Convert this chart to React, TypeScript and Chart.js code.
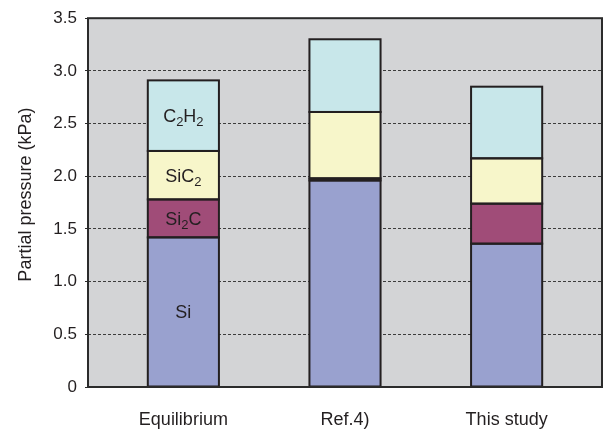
import { useEffect, useRef } from 'react';
import { Chart, registerables } from 'chart.js';

Chart.register(...registerables);

// Partial pressures (kPa) of the gas species, stacked per condition
const categories = ['Equilibrium', 'Ref.4)', 'This study'];
const species = ['Si', 'Si2C', 'SiC2', 'C2H2'];
const si = [1.42, 1.96, 1.36];
const si2c = [0.36, 0.02, 0.38];
const sic2 = [0.46, 0.63, 0.43];
const c2h2 = [0.67, 0.69, 0.68];
const yTicks = [0, 0.5, 1.0, 1.5, 2.0, 2.5, 3.0, 3.5];
const yTitle = 'Partial pressure (kPa)';

// Species names are printed inside the bars of this category only
const labelledCategory = 0;

const seriesValues = [si, si2c, sic2, c2h2];
const seriesColors = ['#99A1CF', '#A04C78', '#F7F6CA', '#C8E7EA'];

const FONT = '"Liberation Sans", Arial, Helvetica, sans-serif';
const INK = '#231F20';

// Draws a chemical formula with its digits as subscripts, centred on (cx, cy)
function drawFormula(ctx: CanvasRenderingContext2D, text: string, cx: number, cy: number) {
  const mainSize = 18;
  const subSize = 13;
  const runs = text.match(/\d+|\D+/g) || [];
  const parts = runs.map((r) => {
    const sub = /^\d+$/.test(r);
    ctx.font = `${sub ? subSize : mainSize}px ${FONT}`;
    return { r, sub, w: ctx.measureText(r).width };
  });
  const total = parts.reduce((s, p) => s + p.w, 0);
  let x = cx - total / 2;
  const baseline = cy + mainSize * 0.716 / 2;
  ctx.textAlign = 'left';
  ctx.textBaseline = 'alphabetic';
  ctx.fillStyle = INK;
  for (const p of parts) {
    ctx.font = `${p.sub ? subSize : mainSize}px ${FONT}`;
    ctx.fillText(p.r, x, p.sub ? baseline + 4 : baseline);
    x += p.w;
  }
}

// Shared 2px outlines around every stacked segment
const barOutlines = {
  id: 'barOutlines',
  afterDatasetsDraw(chart: any) {
    const { ctx } = chart;
    ctx.save();
    ctx.strokeStyle = INK;
    ctx.lineWidth = 2;
    chart.data.datasets.forEach((_: any, i: number) => {
      chart.getDatasetMeta(i).data.forEach((el: any) => {
        const { x, y, base, width } = el.getProps(['x', 'y', 'base', 'width'], true);
        ctx.strokeRect(x - width / 2, Math.min(y, base), width, Math.abs(base - y));
      });
    });
    ctx.restore();
  },
};

const plotFrame = {
  id: 'plotFrame',
  beforeDraw(chart: any) {
    const { ctx, chartArea: a } = chart;
    ctx.save();
    ctx.fillStyle = '#D3D4D6';
    ctx.fillRect(a.left, a.top, a.right - a.left, a.bottom - a.top);
    ctx.restore();
  },
  afterDatasetsDraw(chart: any) {
    const { ctx, chartArea: a } = chart;
    ctx.save();
    ctx.strokeStyle = '#2B2B2B';
    ctx.lineWidth = 2;
    ctx.strokeRect(a.left, a.top, a.right - a.left, a.bottom - a.top);
    // vertical axis title, sitting a little above the plot's mid-height
    ctx.translate(26, (a.top + a.bottom) / 2 - 8);
    ctx.rotate(-Math.PI / 2);
    ctx.font = `18px ${FONT}`;
    ctx.fillStyle = INK;
    ctx.textAlign = 'center';
    ctx.textBaseline = 'middle';
    ctx.fillText(yTitle, 0, 0);
    ctx.restore();
  },
};

const speciesLabels = {
  id: 'speciesLabels',
  afterDatasetsDraw(chart: any) {
    const { ctx } = chart;
    ctx.save();
    chart.data.datasets.forEach((ds: any, i: number) => {
      const el = chart.getDatasetMeta(i).data[labelledCategory];
      if (!el) return;
      const { x, y, base } = el.getProps(['x', 'y', 'base'], true);
      drawFormula(ctx, ds.label, x, (y + base) / 2);
    });
    ctx.restore();
  },
};

export default function App() {
  const canvasRef = useRef<HTMLCanvasElement | null>(null);

  useEffect(() => {
    if (!canvasRef.current) return;
    const chart = new Chart(canvasRef.current, {
      type: 'bar',
      data: {
        datasets: species.map((name, s) => ({
          label: name,
          data: categories.map((_, i) => ({ x: i, y: seriesValues[s][i] })),
          backgroundColor: seriesColors[s],
          borderWidth: 0,
          inflateAmount: 0,
          barPercentage: 0.44,
          categoryPercentage: 1,
        })),
      },
      options: {
        animation: false,
        responsive: false,
        layout: { padding: { top: 17, right: 3, left: 0, bottom: 0 } },
        plugins: {
          legend: { display: false },
          tooltip: { enabled: false },
        },
        scales: {
          x: {
            type: 'linear',
            stacked: true,
            offset: false,
            min: -0.59,
            max: 2.59,
            afterBuildTicks: (s: any) => {
              s.ticks = categories.map((_, i) => ({ value: i }));
            },
            afterFit: (s: any) => {
              s.height = 45;
            },
            grid: { display: false, drawTicks: false, offset: false },
            border: { display: false },
            ticks: {
              padding: 22,
              color: INK,
              font: { family: FONT, size: 18 },
              maxRotation: 0,
              autoSkip: false,
              callback: (v: any) => categories[v] ?? '',
            },
          },
          y: {
            stacked: true,
            min: 0,
            max: 3.5,
            afterBuildTicks: (s: any) => {
              s.ticks = yTicks.map((v) => ({ value: v }));
            },
            afterFit: (s: any) => {
              s.width = 88;
            },
            grid: {
              color: (c: any) =>
                c.tick && (c.tick.value === 0 || c.tick.value === 3.5) ? 'rgba(0,0,0,0)' : '#3C3C3C',
              lineWidth: 1,
              tickColor: '#2B2B2B',
              tickLength: 3,
              tickBorderDash: [],
            },
            border: { display: false, dash: [3, 2] },
            ticks: {
              padding: 8,
              color: INK,
              font: { family: FONT, size: 17 },
              callback: (v: any) => (v === 0 ? '0' : Number(v).toFixed(1)),
            },
            title: { display: false },
          },
        },
      } as any,
      plugins: [barOutlines, plotFrame, speciesLabels],
    });
    return () => chart.destroy();
  }, []);

  return (
    <div style={{ position: 'fixed', left: 0, top: 0, width: 605, height: 432, background: '#fff' }}>
      <canvas ref={canvasRef} width={605} height={432} />
    </div>
  );
}
